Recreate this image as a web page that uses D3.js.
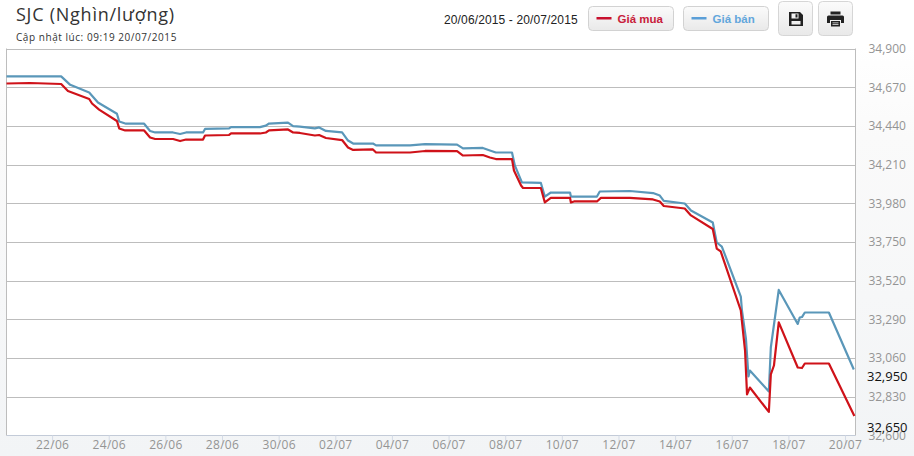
<!DOCTYPE html>
<html><head><meta charset="utf-8">
<script src="https://cdn.jsdelivr.net/npm/d3@7/dist/d3.min.js"></script>
<style>
html,body{margin:0;padding:0;background:#fff;overflow:hidden}
svg{display:block}
</style></head><body><svg id="c" width="914" height="456"></svg>
<script>
const sellDays=[0.39,2.32,2.64,3.31,3.62,4.29,4.37,4.61,5.25,5.46,5.64,6.27,6.52,6.73,7.33,7.40,8.25,8.32,9.34,9.55,9.66,10.33,10.51,10.75,11.28,11.43,11.67,12.24,12.45,12.63,13.33,13.44,14.64,15.17,16.30,16.51,17.21,17.46,17.67,18.24,18.34,18.59,19.26,19.40,19.61,20.29,20.32,21.24,21.34,22.40,23.22,23.46,23.60,24.34,24.56,25.33,25.47,25.65,26.32,26.36,26.50,26.59,26.64,27.31,27.38,27.66,28.33,28.40,28.48,28.58,29.43,30.31];
const sellValues=[34734,34734,34684,34639,34579,34512,34466,34453,34453,34410,34401,34401,34392,34401,34401,34422,34425,34433,34433,34442,34454,34460,34439,34436,34425,34431,34410,34401,34353,34335,34335,34324,34324,34332,34329,34306,34309,34294,34282,34282,34205,34104,34101,34020,34044,34044,34020,34020,34050,34053,34041,34026,33994,33979,33937,33866,33747,33723,33426,33343,33177,32951,32986,32862,33123,33465,33263,33301,33304,33331,33331,32992];
const buyDays=[0.39,1.22,2.32,2.56,3.31,3.41,3.66,4.29,4.37,4.58,5.25,5.46,5.64,6.27,6.52,6.73,7.33,7.40,8.25,8.32,9.34,9.55,9.66,10.33,10.51,10.75,11.28,11.43,11.67,12.24,12.45,12.63,13.33,13.44,14.64,15.17,16.30,16.51,17.21,17.46,17.67,18.24,18.31,18.56,18.63,19.26,19.40,19.61,20.29,20.32,20.43,21.24,21.38,22.40,23.22,23.46,23.60,24.34,24.56,25.33,25.47,25.61,26.32,26.36,26.47,26.54,26.64,27.31,27.38,27.49,27.66,28.33,28.48,28.58,29.43,30.33];
const buyValues=[34692,34695,34689,34647,34600,34573,34537,34469,34425,34413,34413,34371,34362,34362,34350,34359,34359,34383,34386,34395,34395,34401,34413,34419,34401,34398,34383,34386,34368,34356,34312,34297,34300,34282,34282,34291,34290,34264,34267,34252,34243,34243,34175,34086,34071,34071,33985,34012,34012,33985,33991,33991,34012,34012,34003,33991,33964,33949,33908,33827,33711,33694,33343,33278,33105,32844,32885,32740,32963,33016,33272,33004,33001,33028,33028,32716];
const xTickDays=[2,4,6,8,10,12,14,16,18,20,22,24,26,28,30];
const xTickLabels=["22/06","24/06","26/06","28/06","30/06","02/07","04/07","06/07","08/07","10/07","12/07","14/07","16/07","18/07","20/07"];
const yTicks=[34900,34670,34440,34210,33980,33750,33520,33290,33060,32830,32600];
const lastValues=[32950,32650];
const titleText="SJC (Nghìn/lượng)";
const updatedText="Cập nhật lúc: 09:19 20/07/2015";
const rangeText="20/06/2015 - 20/07/2015";
const legendLabels=["Giá mua","Giá bán"];
const buyColor="#cf1219", sellColor="#5a97b9";

const svg=d3.select("#c");
const defs=svg.append("defs");
const bg=defs.append("linearGradient").attr("id","bg").attr("x1",0).attr("x2",0).attr("y1",0).attr("y2",1);
[[0,"#ffffff"],[0.1,"#ffffff"],[0.3,"#fafafa"],[1,"#f2f4f6"]].forEach(s=>bg.append("stop").attr("offset",s[0]).attr("stop-color",s[1]));
const btn=defs.append("linearGradient").attr("id","btn").attr("x1",0).attr("x2",0).attr("y1",0).attr("y2",1);
[[0,"#fbfbfb"],[1,"#e9e9e9"]].forEach(s=>btn.append("stop").attr("offset",s[0]).attr("stop-color",s[1]));
svg.append("rect").attr("width",914).attr("height",456).attr("fill","url(#bg)");

const L=6.5,R=855.5,T=48.5,B=435.5;
const x=d3.scaleLinear().domain([0.39,30.37]).range([L,R]);
const y=d3.scaleLinear().domain([32600,34900]).range([B,T]);
const FONT="'Open Sans',sans-serif";

svg.append("rect").attr("x",L).attr("y",T).attr("width",R-L).attr("height",B-T).attr("fill","#fff");

// grid
svg.append("g").selectAll("line").data(yTicks.slice(1,-1).concat(34900)).join("line")
 .attr("x1",L).attr("x2",R).attr("y1",d=>Math.round(y(d))+.5).attr("y2",d=>Math.round(y(d))+.5)
 .attr("stroke","#bdbdbd").attr("stroke-width",1);
svg.append("line").attr("x1",L).attr("x2",L).attr("y1",T).attr("y2",B).attr("stroke","#bdbdbd");
svg.append("line").attr("x1",R).attr("x2",R).attr("y1",T).attr("y2",B).attr("stroke","#bdbdbd");

// x axis
const gx=svg.append("g").attr("transform",`translate(0,${B})`).call(
 d3.axisBottom(x).tickValues(xTickDays).tickFormat((d,i)=>xTickLabels[i]).tickSize(9).tickPadding(-2));
gx.select(".domain").attr("stroke","#c3cbd8").attr("d",`M${L},0H${R}`);
gx.selectAll(".tick line").attr("stroke","#d4dbe6");
gx.selectAll("text").attr("fill","#949494").attr("font-family",FONT).attr("font-size",12).attr("letter-spacing","0.3px")
 .attr("y",3).attr("dy","0.9em");

// y axis
const gy=svg.append("g").attr("transform",`translate(${R},0)`).call(
 d3.axisRight(y).tickValues(yTicks).tickFormat(d3.format(",")).tickSize(0).tickPadding(13));
gy.select(".domain").remove();
gy.selectAll("text").attr("fill","#949494").attr("font-family",FONT).attr("font-size",12);

// lines
const line=d3.line().x(d=>x(d[0])).y(d=>y(d[1]));
svg.append("path").attr("d",line(sellDays.map((d,i)=>[d,sellValues[i]])))
 .attr("fill","none").attr("stroke",sellColor).attr("stroke-width",2.2).attr("stroke-linejoin","round");
svg.append("path").attr("d",line(buyDays.map((d,i)=>[d,buyValues[i]])))
 .attr("fill","none").attr("stroke",buyColor).attr("stroke-width",2.2).attr("stroke-linejoin","round");

// current value labels
svg.append("g").selectAll("text").data(lastValues).join("text")
 .attr("x",867).attr("y",d=>y(d)).attr("dy","0.35em").attr("fill","#111")
 .attr("font-family",FONT).attr("font-size",13).text(d3.format(","));

// titles
svg.append("text").attr("x",16).attr("y",21).attr("font-family",FONT).attr("font-size",18).attr("letter-spacing","0.75px").attr("fill","#333").text(titleText);
svg.append("text").attr("x",16).attr("y",41).attr("font-family",FONT).attr("font-size",10).attr("letter-spacing","0.55px").attr("fill","#333").text(updatedText);
svg.append("text").attr("x",444).attr("y",24).attr("font-family","'Liberation Sans',sans-serif").attr("font-size",12).attr("letter-spacing","0.13px").attr("fill","#222").text(rangeText);

// legend buttons
const legend=[{x:588.5,c:"#c8102e",tc:"#c8203a",l:legendLabels[0]},{x:683.5,c:"#5b9fd8",tc:"#62a6dc",l:legendLabels[1]}];
legend.forEach(b=>{
 const g=svg.append("g").attr("transform",`translate(${b.x},6.5)`);
 g.append("rect").attr("width",85).attr("height",24).attr("rx",4).attr("fill","url(#btn)").attr("stroke","#d2d2d2");
 g.append("rect").attr("x",8).attr("y",10.5).attr("width",15).attr("height",2.5).attr("fill",b.c);
 g.append("text").attr("x",29).attr("y",16.5).attr("font-family","'Liberation Sans',sans-serif").attr("font-size",11.5).attr("font-weight",700).attr("fill",b.tc).text(b.l);
});

// save / print buttons
[778.5,818.5].forEach((bx,i)=>{
 const g=svg.append("g").attr("transform",`translate(${bx},1.5)`);
 g.append("rect").attr("width",34).attr("height",34).attr("rx",4).attr("fill","url(#btn)").attr("stroke","#d6d6d6");
 if(i===0){
  g.append("path").attr("fill","#222").attr("fill-rule","evenodd")
   .attr("d","M10.5,10.5h11l3,3v11h-14zM13,12v5h7v-5zM17,12.7h2v3.4h-2zM13,19.5v3.5h9v-3.5z");
 }else{
  g.append("path").attr("fill","#222").attr("fill-rule","evenodd")
   .attr("d","M12,10h10v3h-10zM10,14h14a1.5,1.5 0 0 1 1.5,1.5v6h-3v-3h-11v3h-3v-6a1.5,1.5 0 0 1 1.5,-1.5z");
  g.append("path").attr("fill","#222").attr("d","M12.5,19.5h9v5.5h-9zM14,21v.8h6v-.8zM14,22.8v.8h6v-.8z").attr("fill-rule","evenodd");
 }
});
</script></body></html>
